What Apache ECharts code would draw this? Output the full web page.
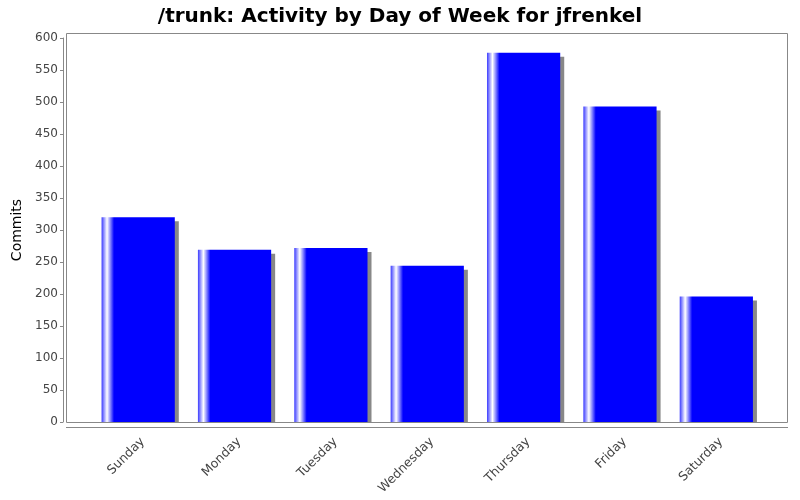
<!DOCTYPE html>
<html>
<head>
<meta charset="utf-8">
<script src="https://cdn.jsdelivr.net/npm/echarts@6/dist/echarts.min.js"></script>
<style>html,body{margin:0;padding:0;background:#fff}#c{width:800px;height:500px}</style>
</head>
<body>
<div id="c"></div>
<script>
const days = ['Sunday','Monday','Tuesday','Wednesday','Thursday','Friday','Saturday'];
const commits = [320, 269, 272, 244, 577, 493, 196];
const yTicks = [0, 50, 100, 150, 200, 250, 300, 350, 400, 450, 500, 550, 600];

const chart = echarts.init(document.getElementById('c'));
const barGrad = new echarts.graphic.LinearGradient(0, 0, 1, 0, [
  {offset: 0, color: '#3a3aff'},
  {offset: 0.075, color: '#ffffff'},
  {offset: 0.17, color: '#0000ff'},
  {offset: 1, color: '#0000ff'}
]);
chart.setOption({
  animation: false,
  backgroundColor: '#ffffff',
  title: {
    text: '/trunk: Activity by Day of Week for jfrenkel',
    left: 'center', top: 2,
    textStyle: {fontFamily: 'DejaVu Sans', fontSize: 20, fontWeight: 'bold', color: '#000'}
  },
  grid: {left: 90, right: 35.5, top: 38, bottom: 78, show: false},
  graphic: [
    {type: 'rect', z: 99, silent: true, shape: {x: 67, y: 423, width: 725, height: 4},
     style: {fill: '#ffffff', stroke: 'none'}},
    {type: 'rect', z: 100, silent: true, shape: {x: 66.5, y: 33.5, width: 721, height: 389},
     style: {fill: 'none', stroke: '#888', lineWidth: 1}},
    {type: 'line', z: 100, silent: true, shape: {x1: 66, y1: 427.5, x2: 788, y2: 427.5},
     style: {stroke: '#888', lineWidth: 1}}
  ],
  xAxis: {
    type: 'category', data: days, offset: 5,
    axisLine: {show: false},
    axisTick: {show: true, alignWithLabel: true, length: 3, lineStyle: {color: '#888'}},
    axisLabel: {rotate: 45, color: '#444', fontFamily: 'DejaVu Sans', fontSize: 12.5, margin: 8, verticalAlign: 'top'}
  },
  yAxis: {
    type: 'value', min: yTicks[0], max: yTicks[yTicks.length - 1], interval: 50, offset: 27,
    name: 'Commits', nameLocation: 'middle', nameGap: 29,
    nameTextStyle: {fontFamily: 'DejaVu Sans', fontSize: 14, color: '#000'},
    axisLine: {show: true, lineStyle: {color: '#888'}},
    axisTick: {show: true, length: 3, lineStyle: {color: '#888'}},
    splitLine: {show: false},
    axisLabel: {color: '#444', fontFamily: 'DejaVu Sans', fontSize: 12, margin: 5}
  },
  series: [{
    type: 'bar', data: commits, barCategoryGap: '24%',
    itemStyle: {color: barGrad, shadowColor: '#888', shadowOffsetX: 4, shadowOffsetY: 4, shadowBlur: 0}
  }]
});
</script>
</body>
</html>
